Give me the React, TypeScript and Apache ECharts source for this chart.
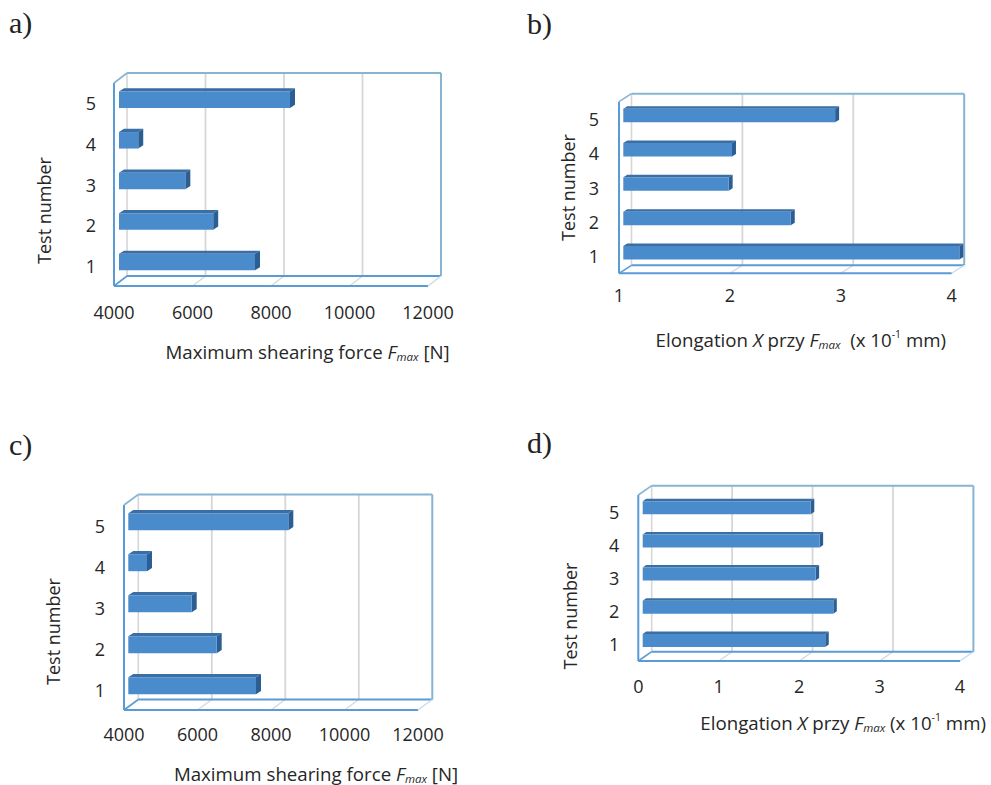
import React, { useEffect, useRef } from "react";
import * as echarts from "echarts";

const tests = ["1", "2", "3", "4", "5"];
const forceTicks = [4000, 6000, 8000, 10000, 12000];
const elongTicksB = [1, 2, 3, 4];
const elongTicksD = [0, 1, 2, 3, 4];

const forceA = [7465, 6400, 5690, 4490, 8357];
const elongB = [4.03, 2.51, 1.95, 1.98, 2.91];
const forceC = [7475, 6405, 5725, 4509, 8354];
const elongD = [2.27, 2.37, 2.15, 2.2, 2.09];

const letters = ["a)", "b)", "c)", "d)"];
const forceTitle = "Maximum shearing force {f|F}{s|max} [N]";
const elongTitleB = "Elongation {f|X} przy {f|F}{s|max}  (x 10{u|-1} mm)";
const elongTitleD = "Elongation {f|X} przy {f|F}{s|max} (x 10{u|-1} mm)";
const yTitle = "Test number";

const panels = [
  { letter: letters[0], lx: 9, ly: 7, values: forceA, ticks: forceTicks, title: forceTitle,
    x: 114, y: 83, w: 314, h: 203, dx: 13, dy: 10, bx: 5, by: 3.6, bh: 16.5, sx: 5, sy: 3.2,
    lab: 18, xm: 17, xn: 54, xs: 36.6, yn: 61, ys: 26 },
  { letter: letters[1], lx: 527, ly: 8, values: elongB, ticks: elongTicksB, title: elongTitleB,
    x: 619, y: 101.7, w: 332.7, h: 171.6, dx: 12.5, dy: 8, bx: 4.3, by: 3.4, bh: 13.5, sx: 4, sy: 2.5,
    lab: 20, xm: 13, xn: 55, xs: 15.5, yn: 41.7, ys: 0 },
  { letter: letters[2], lx: 9, ly: 429, values: forceC, ticks: forceTicks, title: forceTitle,
    x: 124, y: 505, w: 294, h: 205.7, dx: 14.3, dy: 10.5, bx: 4.3, by: 3.8, bh: 17, sx: 5, sy: 3.2,
    lab: 19, xm: 15, xn: 52, xs: 45, yn: 61.7, ys: 24 },
  { letter: letters[3], lx: 527, ly: 427, values: elongD, ticks: elongTicksD, title: elongTitleD,
    x: 638.3, y: 495, w: 321.7, h: 166, dx: 13.4, dy: 9.3, bx: 4.4, by: 3.9, bh: 13, sx: 3.5, sy: 2.5,
    lab: 19, xm: 16, xn: 50, xs: 44, yn: 59.3, ys: 38 },
];

const FRONT = "#4a8bcb";
const TOP = "#3a6ea5";
const SIDE = "#2b5f94";
const FRAME = "#5b9bd5";
const WALL = "#86b4d4";
const GRID = "#d6d6d6";
const TEXT = "#262626";
const FONT = "'Open Sans', sans-serif";

const rich = {
  f: { fontStyle: "italic", fontSize: 18.7, fontFamily: FONT, color: TEXT, lineHeight: 22 },
  s: { fontStyle: "italic", fontSize: 11.5, fontFamily: FONT, color: TEXT, verticalAlign: "bottom", lineHeight: 20 },
  u: { fontSize: 10.5, fontFamily: FONT, color: TEXT, verticalAlign: "top", lineHeight: 20 },
};

function line(x1: number, y1: number, x2: number, y2: number, stroke: string, lineWidth: number) {
  return { type: "line", shape: { x1, y1, x2, y2 }, style: { stroke, lineWidth, fill: "none" } };
}

function buildOption() {
  const grid: any[] = [];
  const xAxis: any[] = [];
  const yAxis: any[] = [];
  const series: any[] = [];
  const title: any[] = [];

  panels.forEach((p, i) => {
    title.push({
      text: p.letter,
      left: p.lx,
      top: p.ly,
      padding: 0,
      textStyle: { fontFamily: "'Liberation Serif', serif", fontSize: 30, fontWeight: "normal", color: "#222" },
    });
    grid.push({ left: p.x, top: p.y, width: p.w, height: p.h, containLabel: false });
    xAxis.push({
      type: "value",
      gridIndex: i,
      min: p.ticks[0],
      max: p.ticks[p.ticks.length - 1],
      interval: p.ticks[1] - p.ticks[0],
      axisLine: { show: false },
      axisTick: { show: false },
      splitLine: { show: false },
      axisLabel: {
        margin: p.xm, fontFamily: FONT, fontSize: 18, color: TEXT, hideOverlap: false,
        showMinLabel: true, showMaxLabel: true, formatter: (v: number) => String(v),
      },
      name: p.title,
      nameLocation: "middle",
      nameGap: p.xn,
      nameTextStyle: { fontFamily: FONT, fontSize: 18.7, color: TEXT, lineHeight: 22, padding: [0, 0, 0, 2 * p.xs], rich },
    });
    yAxis.push({
      type: "category",
      gridIndex: i,
      data: tests,
      axisLine: { show: false },
      axisTick: { show: false },
      splitLine: { show: false },
      axisLabel: { margin: p.lab, fontFamily: FONT, fontSize: 18, color: TEXT },
      name: yTitle,
      nameLocation: "middle",
      nameGap: p.yn,
      nameTextStyle: { fontFamily: FONT, fontSize: 18, color: TEXT, padding: [0, 2 * p.ys, 0, 0] },
    });

    // gridlines on back wall and floor, one per tick
    series.push({
      type: "custom",
      xAxisIndex: i,
      yAxisIndex: i,
      silent: true,
      z: 1,
      clip: false,
      data: p.ticks.slice(1, -1).map((t) => [t, 0]),
      renderItem: (params: any, api: any) => {
        const cs = params.coordSys;
        const px = api.coord([api.value(0), 0])[0];
        return {
          type: "group",
          children: [
            line(px + p.dx, cs.y - p.dy, px + p.dx, cs.y + cs.height - p.dy, GRID, 1.8),
            line(px, cs.y + cs.height, px + p.dx, cs.y + cs.height - p.dy, GRID, 1.2),
          ],
        };
      },
    });
    // frame
    series.push({
      type: "custom",
      xAxisIndex: i,
      yAxisIndex: i,
      silent: true,
      z: 2,
      clip: false,
      data: [[p.ticks[0], 0]],
      renderItem: (params: any) => {
        const { x, y, width: w, height: h } = params.coordSys;
        const { dx, dy } = p;
        return {
          type: "group",
          children: [
            line(x + dx, y - dy, x + dx, y + h - dy, GRID, 1.6),
            line(x + dx, y - dy, x + dx + w, y - dy, WALL, 2),
            line(x + dx + w, y - dy, x + dx + w, y + h - dy, WALL, 2),
            line(x + dx, y + h - dy, x + dx + w, y + h - dy, FRAME, 2),
            line(x, y, x, y + h, FRAME, 2),
            line(x, y, x + dx, y - dy, WALL, 1.6),
            line(x, y + h, x + dx, y + h - dy, FRAME, 1.6),
            line(x, y + h, x + w, y + h, FRAME, 2),
            line(x + w, y + h, x + w + dx, y + h - dy, "#c4d9ea", 1.2),
          ],
        };
      },
    });
    // 3D bars
    series.push({
      type: "custom",
      name: p.letter,
      xAxisIndex: i,
      yAxisIndex: i,
      silent: true,
      z: 3,
      clip: false,
      data: p.values.map((v, k) => [v, k]),
      renderItem: (_params: any, api: any) => {
        const end = api.coord([api.value(0), api.value(1)]);
        const start = api.coord([p.ticks[0], api.value(1)]);
        const x0 = start[0] + p.bx;
        const x1 = end[0] + p.bx;
        const yc = end[1] - p.by;
        const t = yc - p.bh / 2;
        const b = yc + p.bh / 2;
        return {
          type: "group",
          children: [
            { type: "polygon", shape: { points: [[x0, t], [x0 + p.sx, t - p.sy], [x1 + p.sx, t - p.sy], [x1, t]] }, style: { fill: TOP } },
            { type: "polygon", shape: { points: [[x1, t], [x1 + p.sx, t - p.sy], [x1 + p.sx, b - p.sy], [x1, b]] }, style: { fill: SIDE } },
            { type: "rect", shape: { x: x0, y: t, width: x1 - x0, height: b - t }, style: { fill: FRONT } },
          ],
        };
      },
    });
  });

  return { animation: false, backgroundColor: "#ffffff", title, grid, xAxis, yAxis, series };
}

export default function App() {
  const ref = useRef<HTMLDivElement>(null);
  useEffect(() => {
    const chart = echarts.init(ref.current!, undefined, { renderer: "svg" });
    chart.setOption(buildOption() as any);
    return () => chart.dispose();
  }, []);
  return <div ref={ref} style={{ position: "absolute", left: 0, top: 0, width: 991, height: 785 }} />;
}
